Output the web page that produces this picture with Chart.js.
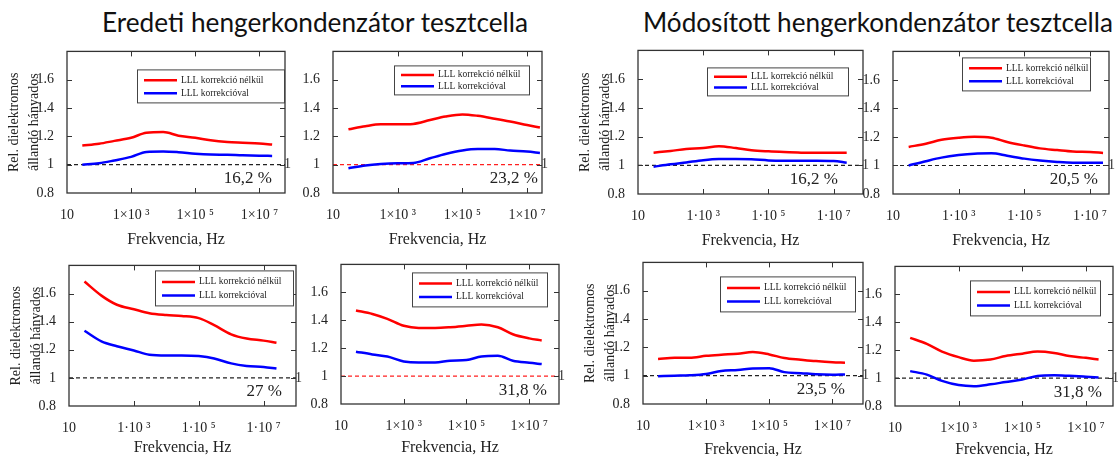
<!DOCTYPE html>
<html>
<head>
<meta charset="utf-8">
<script src="https://cdn.jsdelivr.net/npm/chart.js@4.4.0/dist/chart.umd.min.js"></script>
<style>
  html, body { margin: 0; padding: 0; background: #fff; }
  body { width: 1118px; height: 456px; position: relative; overflow: hidden; }
  .title { position: absolute; font-family: Lato, "Open Sans", sans-serif; color: #111; white-space: nowrap; line-height: 1; }
  canvas { position: absolute; }
</style>
</head>
<body>
<div class="title" id="t1">Eredeti hengerkondenzátor tesztcella</div>
<div class="title" id="t2">Módosított hengerkondenzátor tesztcella</div>
<script>
// measurement frequencies (Hz), shared by all panels
const freqHz = [30, 100, 300, 1e3, 3e3, 1e4, 3e4, 1e5, 3e5, 1e6, 3e6, 1e7, 2.5e7];
const seriesLabels = ['LLL korrekció nélkül', 'LLL korrekcióval'];
const yTicks = [0.8, 1, 1.2, 1.4, 1.6];
const xTicks = [10, 1e3, 1e5, 1e7];
const xLabelsCross = ['10', '1×10 ³', '1×10 ⁵', '1×10 ⁷'];
const xLabelsDot = ['10', '1·10 ³', '1·10 ⁵', '1·10 ⁷'];
const pctLabels = ['16,2 %', '23,2 %', '27 %', '31,8 %', '16,2 %', '20,5 %', '23,5 %', '31,8 %'];
const yTitle = ['Rel. dielektromos', 'állandó hányados'];
const xTitle = 'Frekvencia, Hz';

// eredeti cella
const p1Red  = [1.135, 1.148, 1.168, 1.19, 1.225, 1.23, 1.205, 1.19, 1.172, 1.16, 1.155, 1.15, 1.142];
const p1Blue = [1.0, 1.01, 1.03, 1.055, 1.09, 1.093, 1.088, 1.078, 1.072, 1.07, 1.066, 1.063, 1.062];
const p2Red  = [1.25, 1.272, 1.285, 1.285, 1.288, 1.315, 1.34, 1.355, 1.345, 1.325, 1.305, 1.28, 1.262];
const p2Blue = [0.975, 0.995, 1.005, 1.01, 1.012, 1.045, 1.075, 1.1, 1.11, 1.11, 1.1, 1.093, 1.083];
const p3Red  = [1.685, 1.585, 1.52, 1.488, 1.46, 1.447, 1.44, 1.425, 1.375, 1.31, 1.28, 1.265, 1.25];
const p3Blue = [1.335, 1.26, 1.225, 1.195, 1.165, 1.16, 1.16, 1.155, 1.138, 1.103, 1.085, 1.078, 1.066];
const p4Red  = [1.47, 1.445, 1.41, 1.36, 1.345, 1.345, 1.35, 1.36, 1.37, 1.35, 1.3, 1.27, 1.255];
const p4Blue = [1.175, 1.155, 1.14, 1.105, 1.097, 1.097, 1.11, 1.115, 1.14, 1.145, 1.11, 1.095, 1.086];
// módosított cella
const p5Red  = [1.088, 1.1, 1.113, 1.12, 1.133, 1.12, 1.105, 1.097, 1.092, 1.088, 1.087, 1.087, 1.087];
const p5Blue = [0.99, 1.007, 1.02, 1.035, 1.043, 1.044, 1.042, 1.034, 1.032, 1.032, 1.032, 1.03, 1.018];
const p6Red  = [1.13, 1.153, 1.18, 1.195, 1.202, 1.195, 1.165, 1.14, 1.12, 1.108, 1.098, 1.095, 1.088];
const p6Blue = [1.0, 1.03, 1.055, 1.073, 1.083, 1.085, 1.068, 1.048, 1.035, 1.025, 1.02, 1.02, 1.02];
const p7Red  = [1.117, 1.126, 1.126, 1.14, 1.148, 1.155, 1.167, 1.15, 1.125, 1.113, 1.103, 1.095, 1.092];
const p7Blue = [0.996, 1.0, 1.003, 1.012, 1.033, 1.04, 1.05, 1.053, 1.025, 1.018, 1.01, 1.007, 1.009];
const p8Red  = [1.288, 1.245, 1.19, 1.15, 1.125, 1.133, 1.158, 1.175, 1.19, 1.18, 1.158, 1.145, 1.133];
const p8Blue = [1.05, 1.025, 0.98, 0.95, 0.942, 0.955, 0.972, 0.99, 1.015, 1.02, 1.016, 1.01, 1.005];

// layout: plot rect [l, t, r, b], axis end, legend box [right gap, top gap, w, h], pct right gap, x axis height
const panels = [
  { rect: [67, 48, 285, 193],   xMax: 6.3e7, red: p1Red, blue: p1Blue, ref: '#222', yT: true,  tl: xLabelsCross, leg: [1, 18, 147, 33], pg: 13, xh: 56 },
  { rect: [333, 48, 542, 193],  xMax: 2.9e7, red: p2Red, blue: p2Blue, ref: '#ff2020', yT: false, tl: xLabelsCross, leg: [13, 14, 135, 29], pg: 4, xh: 56 },
  { rect: [69, 262, 296, 406],  xMax: 1e8,   red: p3Red, blue: p3Blue, ref: '#222', yT: true,  tl: xLabelsDot,   leg: [3, 5, 138, 35], pg: 14, xh: 51 },
  { rect: [341, 261, 559, 404], xMax: 8.9e7, red: p4Red, blue: p4Blue, ref: '#ff2020', yT: false, tl: xLabelsCross, leg: [12, 8, 135, 34], pg: 12, xh: 53 },
  { rect: [638, 47, 863, 194],  xMax: 7.9e7, red: p5Red, blue: p5Blue, ref: '#222', yT: true,  tl: xLabelsDot,   leg: [15, 17, 141, 28], pg: 25, xh: 56 },
  { rect: [893, 48, 1109, 194], xMax: 3.8e7, red: p6Red, blue: p6Blue, ref: '#222', yT: false, tl: xLabelsDot,   leg: [19, 6, 128, 33], pg: 11, xh: 56 },
  { rect: [643, 259, 863, 404], xMax: 9.3e7, red: p7Red, blue: p7Blue, ref: '#222', yT: true,  tl: xLabelsCross, leg: [8, 14, 135, 35], pg: 18, xh: 55 },
  { rect: [895, 263, 1113, 406], xMax: 7.1e7, red: p8Red, blue: p8Blue, ref: '#222', yT: false, tl: xLabelsCross, leg: [13, 14, 130, 35], pg: 11, xh: 53 }
];

Chart.defaults.font.family = '"Liberation Serif", "Times New Roman", serif';
Chart.defaults.color = '#222';

const panelDecor = {
  id: 'panelDecor',
  afterDraw(chart, args, o) {
    const ctx = chart.ctx;
    const a = chart.chartArea;
    const xs = chart.scales.x, ys = chart.scales.y;
    ctx.save();
    // inward tick marks on all four sides
    ctx.strokeStyle = '#333';
    ctx.lineWidth = 1;
    ctx.beginPath();
    xTicks.forEach(v => {
      const px = Math.round(xs.getPixelForValue(v)) + 0.5;
      if (px <= a.left + 2 || px >= a.right - 2) return;
      ctx.moveTo(px, a.bottom); ctx.lineTo(px, a.bottom - 5);
      ctx.moveTo(px, a.top); ctx.lineTo(px, a.top + 5);
    });
    yTicks.forEach(v => {
      const py = Math.round(ys.getPixelForValue(v)) + 0.5;
      if (py <= a.top + 2 || py >= a.bottom - 2) return;
      ctx.moveTo(a.left, py); ctx.lineTo(a.left + 5, py);
      ctx.moveTo(a.right, py); ctx.lineTo(a.right - 5, py);
    });
    ctx.stroke();
    ctx.lineWidth = 1.3;
    ctx.strokeRect(a.left, a.top, a.right - a.left, a.bottom - a.top);

    // "1" marker at the right end of the reference line
    const y1 = ys.getPixelForValue(1);
    ctx.fillStyle = '#333';
    ctx.font = '14px "Liberation Serif", serif';
    ctx.textAlign = 'left';
    ctx.textBaseline = 'middle';
    ctx.fillText('1', a.right - 1, y1);

    // percentage note
    ctx.font = '17px "Liberation Serif", serif';
    ctx.textAlign = 'right';
    ctx.fillStyle = '#222';
    ctx.fillText(o.pct, a.right - o.pg, ys.getPixelForValue(0.9));

    // legend box inside the plot
    const [rg, tg, w, h] = o.leg;
    const bx = a.right - rg - w, by = a.top + tg;
    ctx.fillStyle = '#fff';
    ctx.fillRect(bx, by, w, h);
    ctx.strokeStyle = '#444';
    ctx.lineWidth = 1;
    ctx.strokeRect(bx + 0.5, by + 0.5, w, h);
    ctx.font = '9.5px "Liberation Serif", serif';
    ctx.textAlign = 'left';
    [0, 1].forEach(i => {
      const ds = chart.data.datasets[i];
      const ly = by + h * (i === 0 ? 0.33 : 0.72);
      ctx.strokeStyle = ds.borderColor;
      ctx.lineWidth = 2.5;
      ctx.beginPath();
      ctx.moveTo(bx + 7, ly); ctx.lineTo(bx + 40, ly);
      ctx.stroke();
      ctx.fillStyle = '#222';
      ctx.fillText(ds.label, bx + 44, ly);
    });
    ctx.restore();
  }
};

function makePanel(p, i) {
  const [l, t, r, b] = p.rect;
  const padTop = 10, padRight = 14, yW = 60, xH = p.xh;
  const cv = document.createElement('canvas');
  cv.width = r - l + yW + padRight;
  cv.height = b - t + padTop + xH;
  cv.style.left = (l - yW) + 'px';
  cv.style.top = (t - padTop) + 'px';
  cv.style.width = cv.width + 'px';
  cv.style.height = cv.height + 'px';
  document.body.appendChild(cv);

  const pts = vals => freqHz.map((f, k) => ({ x: f, y: vals[k] }));
  new Chart(cv, {
    type: 'line',
    data: {
      datasets: [
        { label: seriesLabels[0], data: pts(p.red), borderColor: '#ff0000', borderWidth: 2.5, pointRadius: 0, cubicInterpolationMode: 'monotone' },
        { label: seriesLabels[1], data: pts(p.blue), borderColor: '#0000ff', borderWidth: 2.5, pointRadius: 0, cubicInterpolationMode: 'monotone' },
        { label: 'ref', data: [{ x: 10, y: 1 }, { x: p.xMax, y: 1 }], borderColor: p.ref, borderWidth: 1.2, borderDash: [4, 3], pointRadius: 0 }
      ]
    },
    options: {
      responsive: false,
      animation: false,
      events: [],
      layout: { padding: { top: padTop, right: padRight, left: 0, bottom: 0 } },
      plugins: {
        legend: { display: false },
        tooltip: { enabled: false },
        panelDecor: { pct: pctLabels[i], pg: p.pg, leg: p.leg }
      },
      scales: {
        x: {
          type: 'logarithmic',
          min: 10,
          max: p.xMax,
          grid: { display: false },
          border: { display: false },
          afterBuildTicks: s => { s.ticks = xTicks.map(v => ({ value: v })); },
          afterFit: s => { s.height = xH; },
          ticks: {
            autoSkip: false,
            maxRotation: 0,
            padding: 6,
            font: { size: 14 },
            callback: v => p.tl[xTicks.indexOf(v)]
          },
          title: { display: true, text: xTitle, font: { size: 16 }, padding: 0 }
        },
        y: {
          min: 0.8,
          max: 1.8,
          grid: { display: false },
          border: { display: false },
          afterBuildTicks: s => { s.ticks = yTicks.map(v => ({ value: v })); },
          afterFit: s => { s.width = yW; },
          ticks: { padding: 5, font: { size: 14 }, callback: v => String(v) },
          title: { display: p.yT, text: yTitle, font: { size: 14, lineHeight: 1.4 }, padding: { top: -2 } }
        }
      }
    },
    plugins: [panelDecor]
  });
}

panels.forEach(makePanel);

function fitTitle(id, left, width, baseline) {
  const el = document.getElementById(id);
  el.style.fontSize = '24px';
  const w = el.getBoundingClientRect().width;
  const fs = 24 * width / w;
  el.style.fontSize = fs + 'px';
  el.style.left = left + 'px';
  el.style.top = (baseline - 0.887 * fs) + 'px';
}
fitTitle('t1', 102, 426, 32);
fitTitle('t2', 643, 470, 32);
</script>
</body>
</html>
